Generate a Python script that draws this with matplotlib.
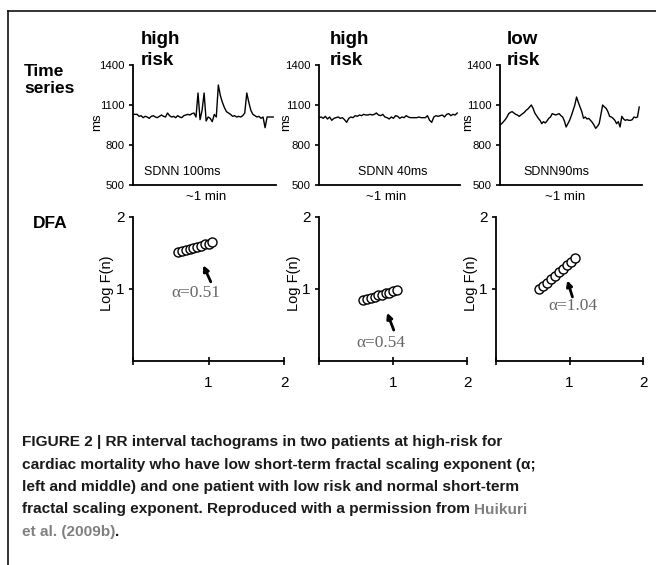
import matplotlib
matplotlib.use('Agg')
import matplotlib.pyplot as plt
from matplotlib.lines import Line2D

W, H = 656, 565
fig = plt.figure(figsize=(W / 100, H / 100), dpi=100)

SANS = ['Liberation Sans', 'DejaVu Sans']
SERIF = ['Liberation Serif', 'DejaVu Serif']

# ---------------- data ----------------
row_labels = ["Time\nseries", "DFA"]
panel_titles = ["high\nrisk", "high\nrisk", "low\nrisk"]
sdnn_labels = ["SDNN 100ms", "SDNN 40ms", "SDNN90ms"]
time_label = "~1 min"
ts_yticks = [500, 800, 1100, 1400]
ts_yticklabels = ["500", "800", "1100", "1400"]

rr_high1 = [1030, 1030, 1030, 1015, 1020, 1005, 1015, 1010, 1000, 1015,
            1020, 1010, 1005, 1015, 1025, 1015, 1010, 1040, 1020, 1010,
            1015, 1005, 1020, 1010, 1005, 1020, 1025, 1030, 1025, 1035,
            1040, 1010, 1190, 990, 1060, 1190, 980, 1010, 1000, 975,
            1030, 1010, 1250, 1170, 1120, 1080, 1050, 1040, 1030, 1015,
            1020, 1010, 1015, 1010, 1020, 1040, 1190, 1120, 1060, 1030,
            1020, 1010, 1015, 1000, 1010, 930, 1010, 1010, 1010, 1010]

rr_high2 = [1005, 1010, 1000, 1015, 995, 1010, 985, 1000, 1005, 1010,
            1000, 1005, 990, 970, 1000, 1010, 1005, 1020, 1015, 1025,
            1020, 1030, 1025, 1025, 1030, 1025, 1030, 1040, 1025, 1020,
            1030, 1010, 1005, 995, 1010, 1000, 1020, 1015, 1000, 1010,
            1005, 1020, 1010, 1005, 1005, 1005, 1005, 1010, 1005, 1005,
            1005, 1020, 985, 970, 1010, 1020, 1015, 1020, 1025, 1010,
            1030, 1035, 1020, 1030, 1025, 1040]

rr_low = [950, 960, 975, 990, 1010, 1035, 1045, 1050, 1040, 1030,
          1025, 1015, 1025, 1035, 1045, 1060, 1070, 1085, 1100, 1075,
          1040, 1020, 1000, 985, 960, 975, 965, 980, 1000, 1010,
          1035, 1030, 1025, 1030, 1035, 1020, 1010, 980, 935, 960,
          985, 1020, 1060, 1100, 1160, 1120, 1085, 1050, 1000, 1010,
          995, 1000, 985, 970, 950, 925, 940, 960, 1030, 1100,
          1085, 1075, 1050, 1015, 1010, 1000, 985, 960, 975, 935,
          1015, 995, 985, 990, 985, 985, 990, 1010, 1005, 1010, 1085]

log_n = [0.60, 0.65, 0.70, 0.75, 0.80, 0.85, 0.90, 0.95, 1.00, 1.05]
logF_high1 = [1.51, 1.53, 1.54, 1.56, 1.57, 1.59, 1.60, 1.62, 1.63, 1.65]
logF_high2 = [0.85, 0.86, 0.88, 0.89, 0.91, 0.92, 0.94, 0.95, 0.97, 0.99]
log_n3 = [0.59, 0.64, 0.70, 0.75, 0.80, 0.86, 0.91, 0.96, 1.02, 1.07]
logF_low = [1.00, 1.04, 1.09, 1.14, 1.18, 1.23, 1.28, 1.33, 1.38, 1.43]
alpha_labels = ["\u03b1=0.51", "\u03b1=0.54", "\u03b1=1.04"]
dfa_ticks = [1, 2]

caption_lines = [
    "FIGURE 2 | RR interval tachograms in two patients at high-risk for",
    "cardiac mortality who have low short-term fractal scaling exponent (\u03b1;",
    "left and middle) and one patient with low risk and normal short-term",
    "fractal scaling exponent. Reproduced with a permission from ",
]
caption_link1 = "Huikuri"
caption_link2 = "et al. (2009b)"

# ---------------- layout helpers ----------------
def fx(px):
    return px / W

def fy(py):
    return 1 - py / H

# frame lines
fig.add_artist(Line2D([fx(8), 1.0], [fy(11), fy(11)], color='#111111', lw=1.2,
                      transform=fig.transFigure))
fig.add_artist(Line2D([fx(8), fx(8)], [fy(11), 0.0], color='#111111', lw=1.2,
                      transform=fig.transFigure))

# row labels
fig.text(fx(24), fy(64), row_labels[0], fontsize=12.5, fontweight='bold',
         family=SANS, va='top', ha='left', linespacing=1.15)
fig.text(fx(33), fy(216), row_labels[1], fontsize=12.5, fontweight='bold',
         family=SANS, va='top', ha='left')

# ---------------- time series row ----------------
ts_x = [(133, 276), (319, 460), (500, 642)]
ts_top, ts_bot = 65, 185
title_x = [141, 330, 507]
ms_x = [-0.25, -0.235, -0.225]
sd_pos = [(0.08, 'left'), (0.525, 'center'), (0.40, 'center')]
tmin_x = [0.51, 0.475, 0.46]
series_list = [rr_high1, rr_high2, rr_low]

for i, ((x0, x1), rr) in enumerate(zip(ts_x, series_list)):
    ax = fig.add_axes([fx(x0), fy(ts_bot), (x1 - x0) / W, (ts_bot - ts_top) / H])
    ax.plot(range(len(rr)), rr, color='black', lw=1.0)
    ax.set_xlim(0, (len(rr) - 1) * 1.02)
    ax.set_ylim(500, 1400)
    ax.set_yticks(ts_yticks)
    ax.set_yticklabels(ts_yticklabels, family=SANS, fontsize=8.2)
    ax.set_xticks([])
    for s in ['top', 'right']:
        ax.spines[s].set_visible(False)
    for s in ['left', 'bottom']:
        ax.spines[s].set_linewidth(1.3)
    ax.tick_params(axis='y', direction='out', length=3, width=1.2, pad=3)
    ax.patch.set_alpha(0)
    ax.text(ms_x[i], 0.525, "ms", rotation=90, transform=ax.transAxes,
            ha='center', va='center', family=SANS, fontsize=9.5)
    px, ha = sd_pos[i]
    ax.text(px, 0.11, sdnn_labels[i], transform=ax.transAxes, ha=ha,
            va='center', family=SANS, fontsize=9)
    ax.text(tmin_x[i], -0.10, time_label, transform=ax.transAxes,
            ha='center', va='center', family=SANS, fontsize=9.5)
    fig.text(fx(title_x[i]), fy(31), panel_titles[i], fontsize=13.5,
             fontweight='bold', family=SANS, va='top', ha='left',
             linespacing=1.3)

# ---------------- DFA row ----------------
dfa_x = [(133, 284), (319, 467), (496, 643)]
dfa_top, dfa_bot = 217, 361
dfa_xs = [log_n, log_n, log_n3]
dfa_ys = [logF_high1, logF_high2, logF_low]
arrows = [((0.93, 1.33), (1.03, 1.10)),
          ((0.92, 0.67), (1.01, 0.43)),
          ((0.97, 1.12), (1.04, 0.89))]
alpha_pos = [(0.83, 0.94), (0.84, 0.25), (1.04, 0.76)]

for i, (x0, x1) in enumerate(dfa_x):
    ax = fig.add_axes([fx(x0), fy(dfa_bot), (x1 - x0) / W, (dfa_bot - dfa_top) / H])
    ax.plot(dfa_xs[i], dfa_ys[i], 'o', ms=6.5, mfc='white', mec='black', mew=1.0)
    ax.set_xlim(0, 2)
    ax.set_ylim(0, 2)
    ax.set_xticks([0] + dfa_ticks)
    ax.set_xticklabels([''] + [str(t) for t in dfa_ticks], family=SANS, fontsize=11)
    ax.set_yticks(dfa_ticks)
    ax.set_yticklabels([str(t) for t in dfa_ticks], family=SANS, fontsize=11)
    for s in ['top', 'right']:
        ax.spines[s].set_visible(False)
    for s in ['left', 'bottom']:
        ax.spines[s].set_linewidth(1.3)
    ax.tick_params(axis='x', direction='inout', length=6, width=1.2, pad=8)
    ax.tick_params(axis='y', direction='out', length=3, width=1.2, pad=3)
    ax.patch.set_alpha(0)
    tip, tail = arrows[i]
    ax.annotate("", xy=tip, xytext=tail,
                arrowprops=dict(arrowstyle='-|>', lw=2.0, color='black',
                                mutation_scale=8, shrinkA=0, shrinkB=0))
    ax.text(alpha_pos[i][0], alpha_pos[i][1], alpha_labels[i], ha='center',
            va='center', family=SERIF, fontsize=12.5, color='#666666')
    ax.text(-0.17, 0.54, "Log F(n)", rotation=90, transform=ax.transAxes,
            ha='center', va='center', family=SANS, fontsize=10.5)

# ---------------- caption ----------------
cap_y = [442, 464.5, 487, 509.5, 532]
cap_fs = 11.1
cap_kw = dict(fontsize=cap_fs, fontweight='bold', family=SANS, va='center',
              ha='left')
last = None
for j, line in enumerate(caption_lines):
    last = fig.text(fx(22), fy(cap_y[j]), line, color='#1a1a1a', **cap_kw)
fig.add_artist(plt.Annotation(caption_link1, xy=(1, 0), xycoords=last,
                              va='bottom', ha='left', color='#808080',
                              fontsize=cap_fs, fontweight='bold', family=SANS))
t2 = fig.text(fx(22), fy(cap_y[4]), caption_link2, color='#808080', **cap_kw)
fig.add_artist(plt.Annotation(".", xy=(1, 0), xycoords=t2, va='bottom',
                              ha='left', color='#1a1a1a', fontsize=cap_fs,
                              fontweight='bold', family=SANS))

fig.savefig('out.png', dpi=100, facecolor='white')
